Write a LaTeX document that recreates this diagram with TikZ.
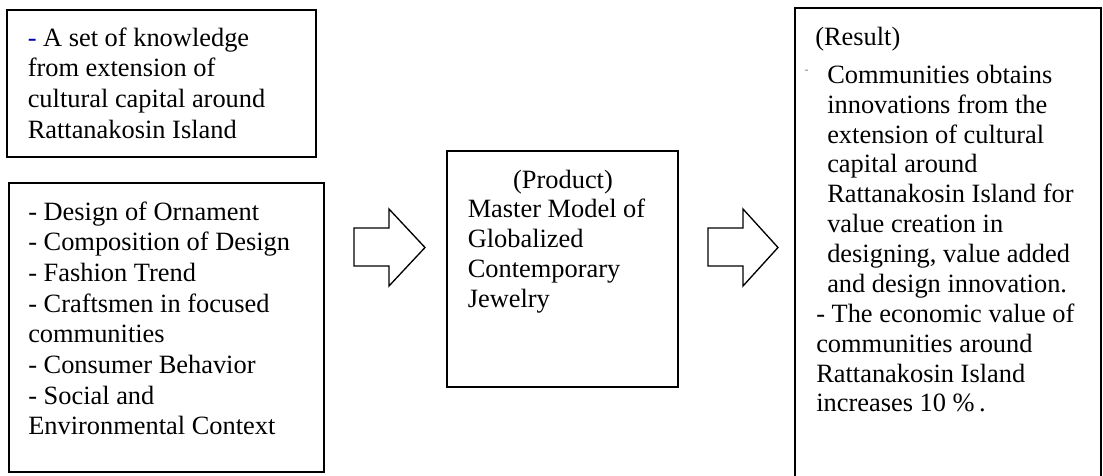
\documentclass[tikz,border=0pt]{standalone}
\usepackage{fontspec}
\setmainfont{Liberation Serif}
\usetikzlibrary{fit}
\definecolor{dashblue}{RGB}{0,0,180}
\definecolor{dashgray}{RGB}{125,125,125}
\newcommand{\firststrut}{\rule{0pt}{15pt}}
\begin{document}
\begin{tikzpicture}[x=0.75pt,y=-0.75pt,
  box/.style={draw=black,line width=1.1pt,inner sep=0pt},
  txt/.style={anchor=north west,inner sep=0pt,align=left,font=\fontsize{19.8}{23}\selectfont},
  txtm/.style={anchor=north west,inner sep=0pt,align=left,font=\fontsize{19.8}{22.5}\selectfont},
  txtr/.style={anchor=north west,inner sep=0pt,align=left,font=\fontsize{19.8}{22.4}\selectfont},
  single/.style={anchor=base,inner sep=0pt,font=\fontsize{19.8}{23}\selectfont},
  blockarrow/.style={draw=black,line width=1pt,fill=white,line join=miter}]
\clip (0,0) rectangle (1103,475);
\fill[white] (0,0) rectangle (1103,475);

% boxes
\node[box,fit={(7,10) (316,157)}] (know) {};
\node[box,fit={(9,183) (324,472)}] (factors) {};
\node[box,fit={(447,151) (678,387)}] (product) {};
\node[box,fit={(795,8) (1101,520)}] (result) {};

% texts of box 1
\node[txt] (knowtxt) at (27.5,26) {\firststrut\textcolor{dashblue}{-} A set of knowledge\\
from extension of\\
cultural capital around\\
Rattanakosin Island};

% texts of box 2
\node[txt] (factorstxt) at (28,200) {\firststrut- Design of Ornament\\
- Composition of Design\\
- Fashion Trend\\
- Craftsmen in focused\\
communities\\
- Consumer Behavior\\
- Social and\\
Environmental Context};

% product
\node[single] (producthead) at (563,188) {(Product)};
\node[txtm] (producttxt) at (467.5,197) {\firststrut Master Model of\\
Globalized\\
Contemporary\\
Jewelry};

% result
\node[single,anchor=base west] (resulthead) at (815,45) {(Result)};
\node[anchor=base,inner sep=0pt,font=\fontsize{9}{10}\selectfont,text=dashgray] (smalldash) at (806.5,73) {-};
\node[txtr] (resulttxt) at (827,63) {\firststrut Communities obtains\\
innovations from the\\
extension of cultural\\
capital around\\
Rattanakosin Island for\\
value creation in\\
designing, value added\\
and design innovation.};
\node[txtr] (resulttxtb) at (816,302) {\firststrut- The economic value of\\
communities around\\
Rattanakosin Island\\
increases 10 \%\,.};

% block arrows
\draw[blockarrow] (354,228) -- (389,228) -- (389,209) -- (425,247.5) -- (389,286) -- (389,266) -- (354,266) -- cycle;
\draw[blockarrow] (708,228) -- (743,228) -- (743,209) -- (778,247.5) -- (743,286) -- (743,266) -- (708,266) -- cycle;
\end{tikzpicture}
\end{document}
